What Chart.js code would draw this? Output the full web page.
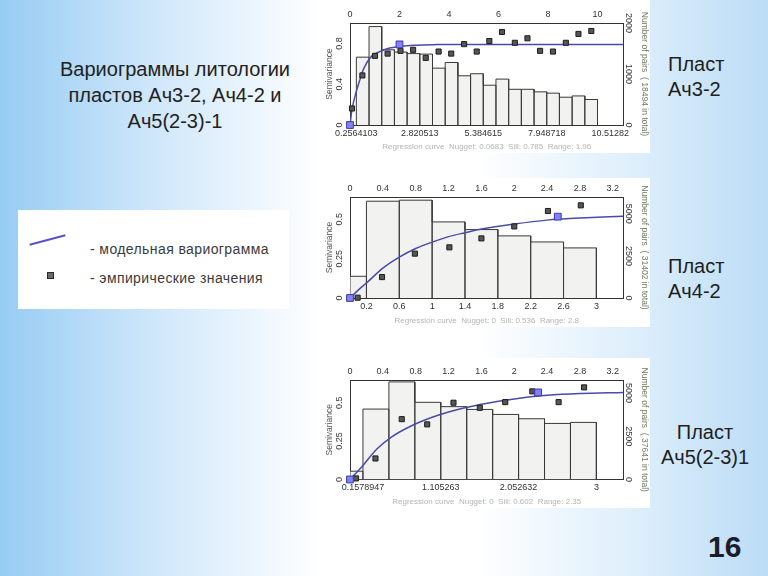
<!DOCTYPE html>
<html lang="ru">
<head>
<meta charset="utf-8">
<script src="https://cdn.jsdelivr.net/npm/chart.js@4.4.0/dist/chart.umd.min.js"></script>
<style>
  html, body { margin: 0; padding: 0; }
  body {
    width: 768px; height: 576px; position: relative; overflow: hidden;
    font-family: "Liberation Sans", Arial, sans-serif;
    background: linear-gradient(90deg, #97ccf3 0%, #cfe7fa 20%, #ffffff 42%, #ffffff 62%, #dbedfb 84%, #bbdcf6 100%);
  }
  .panel { position: absolute; background: #fff; }
  .panel canvas { display: block; }
  #title { position: absolute; left: 40px; top: 56px; width: 270px; text-align: center;
    font-size: 20px; line-height: 26px; color: #222; }
  .plast { position: absolute; font-size: 20px; line-height: 25px; color: #1e1e1e; }
  #legend { position: absolute; left: 18px; top: 210px; width: 271px; height: 99px; background: #fff; }
  #legend .line { position: absolute; left: 11px; top: 29px; width: 37px; height: 2px; background: #5a50cc;
    transform: rotate(-15deg); }
  #legend .sq { position: absolute; left: 29px; top: 62px; width: 5px; height: 5px; background: #6a6a6a;
    border: 1px solid #2a2a2a; }
  #legend .txt { position: absolute; left: 72px; font-size: 14px; line-height: 18px; letter-spacing: 0.4px; color: #3a3a3a; }
  #page { position: absolute; left: 708px; top: 530px; font-size: 30px; font-weight: bold; line-height: 34px; color: #1b1b2a; }
</style>
</head>
<body>
<div id="title">Вариограммы литологии<br>пластов Ач3-2, Ач4-2 и<br>Ач5(2-3)-1</div>

<div id="legend">
  <div class="line"></div>
  <div class="txt" style="top:30px">- модельная вариограмма</div>
  <div class="sq"></div>
  <div class="txt" style="top:59px">- эмпирические значения</div>
</div>

<div class="panel" style="left:320px; top:0px;"><canvas id="c1" width="330" height="153"></canvas></div>
<div class="panel" style="left:320px; top:178px;"><canvas id="c2" width="330" height="149"></canvas></div>
<div class="panel" style="left:320px; top:358px;"><canvas id="c3" width="330" height="150"></canvas></div>

<div class="plast" style="left:668px; top:52px;">Пласт<br>Ач3-2</div>
<div class="plast" style="left:668px; top:254px;">Пласт<br>Ач4-2</div>
<div class="plast" style="left:655px; top:420px; width:100px; text-align:center;">Пласт<br>Ач5(2-3)1</div>
<div id="page">16</div>

<script>
// Пласт Ач3-2
const ach32Edges = [0.2564103, 0.7692308, 1.2820513, 1.7948718, 2.3076923, 2.8205128, 3.3333333, 3.8461538,
  4.3589744, 4.8717949, 5.3846154, 5.8974359, 6.4102564, 6.9230769, 7.4358974, 7.9487179, 8.4615385,
  8.974359, 9.4871795, 10.0];
const ach32Pairs = [1330, 1930, 1475, 1430, 1400, 1390, 1115, 1225, 965, 1005, 780, 900, 700, 700, 650, 625, 545, 570, 500];
const ach32LagX = [0.08, 0.5, 1.01, 1.52, 2.04, 2.55, 3.06, 3.58, 4.09, 4.61, 5.12, 5.63, 6.14, 6.66, 7.17, 7.68, 8.2, 8.72, 9.23, 9.75];
const ach32Gamma = [0.162, 0.486, 0.678, 0.70, 0.727, 0.737, 0.658, 0.72, 0.70, 0.793, 0.72, 0.823, 0.912, 0.806, 0.85, 0.727, 0.72, 0.806, 0.893, 0.922];
const ach32ModelX = [0, 0.08, 0.2, 0.4, 0.55, 0.8, 1.2, 1.6, 2.0, 2.6, 3.5, 5, 11.05];
const ach32ModelY = [0, 0.15, 0.28, 0.445, 0.55, 0.655, 0.72, 0.755, 0.77, 0.782, 0.788, 0.79, 0.79];
const ach32KnotX = [0, 2.0];
const ach32KnotY = [0, 0.79];
const ach32TopTicks = [0, 2, 4, 6, 8, 10];
const ach32BottomTicks = [0.2564103, 2.820513, 5.384615, 7.948718, 10.51282];
const ach32LeftTicks = [0, 0.4, 0.8];
const ach32RightTicks = [0, 1000, 2000];

// Пласт Ач4-2
const ach42Edges = [0, 0.2, 0.6, 1.0, 1.4, 1.8, 2.2, 2.6, 3.0];
const ach42Pairs = [1290, 5750, 5810, 4520, 4065, 3690, 3330, 2975];
const ach42LagX = [0.093, 0.39, 0.79, 1.21, 1.6, 2.0, 2.41, 2.81];
const ach42Gamma = [0.002, 0.133, 0.282, 0.322, 0.379, 0.455, 0.553, 0.589];
const ach42ModelX = [0, 0.1, 0.2, 0.4, 0.6, 0.8, 1.0, 1.2, 1.4, 1.6, 2.0, 2.4, 2.8, 3.33];
const ach42ModelY = [0, 0.05, 0.095, 0.19, 0.26, 0.315, 0.355, 0.39, 0.415, 0.438, 0.47, 0.495, 0.508, 0.52];
const ach42KnotX = [0, 2.53];
const ach42KnotY = [0, 0.517];
const ach42TopTicks = [0, 0.4, 0.8, 1.2, 1.6, 2, 2.4, 2.8, 3.2];
const ach42BottomTicks = [0.2, 0.6, 1, 1.4, 1.8, 2.2, 2.6, 3];
const ach42LeftTicks = [0, 0.25, 0.5];
const ach42RightTicks = [0, 2500, 5000];

// Пласт Ач5(2-3)1
const ach5Edges = [0, 0.1578947, 0.4736842, 0.7894737, 1.105263, 1.421053, 1.736842, 2.052632, 2.368421, 2.684211, 3.0];
const ach5Pairs = [480, 4070, 5640, 4460, 4210, 4050, 3760, 3510, 3240, 3300];
const ach5LagX = [0.073, 0.31, 0.63, 0.94, 1.26, 1.58, 1.89, 2.22, 2.54, 2.85];
const ach5Gamma = [0.007, 0.137, 0.393, 0.359, 0.5, 0.467, 0.504, 0.574, 0.504, 0.6];
const ach5ModelX = [0, 0.15, 0.33, 0.5, 0.75, 1.0, 1.2, 1.6, 2.0, 2.4, 2.8, 3.33];
const ach5ModelY = [0, 0.087, 0.2, 0.275, 0.35, 0.405, 0.44, 0.49, 0.525, 0.548, 0.56, 0.567];
const ach5KnotX = [0, 2.29];
const ach5KnotY = [0, 0.567];
const ach5TopTicks = [0, 0.4, 0.8, 1.2, 1.6, 2, 2.4, 2.8, 3.2];
const ach5BottomTicks = [0.1578947, 1.105263, 2.052632, 3];
const ach5LeftTicks = [0, 0.25, 0.5];
const ach5RightTicks = [0, 2500, 5000];

const plain = '"Liberation Sans", Arial, sans-serif';
const tickFont = { family: plain, size: 9 };
const titleFont = { family: plain, size: 8.5 };

// histogram bars as one closed outline: up, across, down for every bin
function histPath(edges, counts) {
  const pts = [];
  for (let i = 0; i < counts.length; i++) {
    pts.push({ x: edges[i], y: 0 });
    pts.push({ x: edges[i], y: counts[i] });
    pts.push({ x: edges[i + 1], y: counts[i] });
    pts.push({ x: edges[i + 1], y: 0 });
  }
  return pts;
}

function zip(xs, ys) {
  return xs.map((x, i) => ({ x: x, y: ys[i] }));
}

function fixedTicks(list) {
  return function (scale) {
    scale.ticks = list.map(v => ({ value: v }));
  };
}

// y tick labels in the original are turned sideways
const sideTicks = {
  id: 'sideTicks',
  afterDraw(chart) {
    const ctx = chart.ctx;
    ['y', 'y2'].forEach(id => {
      const s = chart.scales[id];
      ctx.save();
      ctx.font = '9px ' + plain;
      ctx.fillStyle = '#333';
      ctx.textAlign = 'center';
      ctx.textBaseline = 'middle';
      s.ticks.forEach(t => {
        const py = s.getPixelForValue(t.value);
        const px = id === 'y' ? s.right - 10 : s.left + 5;
        ctx.save();
        ctx.translate(px, py);
        ctx.rotate(id === 'y' ? -Math.PI / 2 : Math.PI / 2);
        ctx.fillText(String(t.value), 0, 0);
        ctx.restore();
      });
      ctx.restore();
    });
  }
};

function drawVariogram(id, d) {
  const axisBorder = { display: true, color: '#333', width: 1 };
  const noGrid = { display: false, drawTicks: false, tickLength: 0 };
  new Chart(document.getElementById(id), {
    data: {
      datasets: [
        {
          type: 'line', data: histPath(d.edges, d.pairs), xAxisID: 'x', yAxisID: 'y2',
          borderColor: '#3a3a3a', borderWidth: 1, backgroundColor: '#f2f3f0',
          fill: 'origin', pointRadius: 0, tension: 0, order: 4
        },
        {
          type: 'line', data: zip(d.modelX, d.modelY), xAxisID: 'x', yAxisID: 'y',
          borderColor: '#4a4aa8', borderWidth: 1.5, pointRadius: 0,
          cubicInterpolationMode: 'monotone', fill: false, order: 3
        },
        {
          type: 'scatter', data: zip(d.lagX, d.gamma), xAxisID: 'x', yAxisID: 'y',
          pointStyle: 'rect', pointRadius: 3.6, backgroundColor: '#565656',
          borderColor: '#1c1c1c', borderWidth: 1, clip: false, order: 2
        },
        {
          type: 'scatter', data: zip(d.knotX, d.knotY), xAxisID: 'x', yAxisID: 'y',
          pointStyle: 'rect', pointRadius: 4.8, backgroundColor: '#8282f4',
          borderColor: '#3a3ab0', borderWidth: 1, clip: false, order: 1
        }
      ]
    },
    options: {
      responsive: false,
      animation: false,
      events: [],
      layout: { padding: 0 },
      plugins: { legend: { display: false }, tooltip: { enabled: false } },
      scales: {
        x: {
          type: 'linear', position: 'bottom', min: 0, max: d.xMax,
          afterBuildTicks: fixedTicks(d.bottomTicks),
          ticks: { autoSkip: false, maxRotation: 0, padding: 3, font: tickFont, color: '#333', callback: v => String(v) },
          grid: noGrid, border: axisBorder,
          title: { display: true, text: d.note, color: '#b4b4b4', font: { family: plain, size: 8 }, padding: { top: 0, bottom: 1 } },
          afterFit: s => { s.height = d.bottomH; }
        },
        xTop: {
          type: 'linear', position: 'top', min: 0, max: d.xMax,
          afterBuildTicks: fixedTicks(d.topTicks),
          ticks: { autoSkip: false, maxRotation: 0, padding: 3, font: tickFont, color: '#333', callback: v => String(v) },
          grid: noGrid, border: axisBorder,
          afterFit: s => { s.height = d.topH; }
        },
        y: {
          position: 'left', min: 0, max: d.yMax,
          afterBuildTicks: fixedTicks(d.leftTicks),
          ticks: { display: false },
          grid: noGrid, border: axisBorder,
          title: { display: true, text: 'Semivariance', color: '#555', font: titleFont, padding: { top: 5, bottom: 0 } },
          afterFit: s => { s.width = 30; }
        },
        y2: {
          position: 'right', min: 0, max: d.pairsMax,
          afterBuildTicks: fixedTicks(d.rightTicks),
          ticks: { display: false },
          grid: noGrid, border: axisBorder,
          title: { display: true, text: d.pairsTitle, color: '#6f7d62', font: titleFont, padding: { top: 1, bottom: 0 } },
          afterFit: s => { s.width = 26.5; }
        }
      }
    },
    plugins: [sideTicks]
  });
}

drawVariogram('c1', {
  edges: ach32Edges, pairs: ach32Pairs, lagX: ach32LagX, gamma: ach32Gamma,
  modelX: ach32ModelX, modelY: ach32ModelY, knotX: ach32KnotX, knotY: ach32KnotY,
  topTicks: ach32TopTicks, bottomTicks: ach32BottomTicks, leftTicks: ach32LeftTicks, rightTicks: ach32RightTicks,
  xMax: 11.05, yMax: 1.0, pairsMax: 2000, topH: 23, bottomH: 28,
  note: 'Regression curve  Nugget: 0.0683  Sill: 0.785  Range: 1.96',
  pairsTitle: 'Number of pairs  ( 18494 in total)'
});

drawVariogram('c2', {
  edges: ach42Edges, pairs: ach42Pairs, lagX: ach42LagX, gamma: ach42Gamma,
  modelX: ach42ModelX, modelY: ach42ModelY, knotX: ach42KnotX, knotY: ach42KnotY,
  topTicks: ach42TopTicks, bottomTicks: ach42BottomTicks, leftTicks: ach42LeftTicks, rightTicks: ach42RightTicks,
  xMax: 3.33, yMax: 0.642, pairsMax: 6000, topH: 19, bottomH: 29,
  note: 'Regression curve  Nugget: 0  Sill: 0.536  Range: 2.8',
  pairsTitle: 'Number of pairs  ( 31402 in total)'
});

drawVariogram('c3', {
  edges: ach5Edges, pairs: ach5Pairs, lagX: ach5LagX, gamma: ach5Gamma,
  modelX: ach5ModelX, modelY: ach5ModelY, knotX: ach5KnotX, knotY: ach5KnotY,
  topTicks: ach5TopTicks, bottomTicks: ach5BottomTicks, leftTicks: ach5LeftTicks, rightTicks: ach5RightTicks,
  xMax: 3.33, yMax: 0.648, pairsMax: 5750, topH: 22, bottomH: 28.5,
  note: 'Regression curve  Nugget: 0  Sill: 0.602  Range: 2.35',
  pairsTitle: 'Number of pairs  ( 37641 in total)'
});
</script>
</body>
</html>
